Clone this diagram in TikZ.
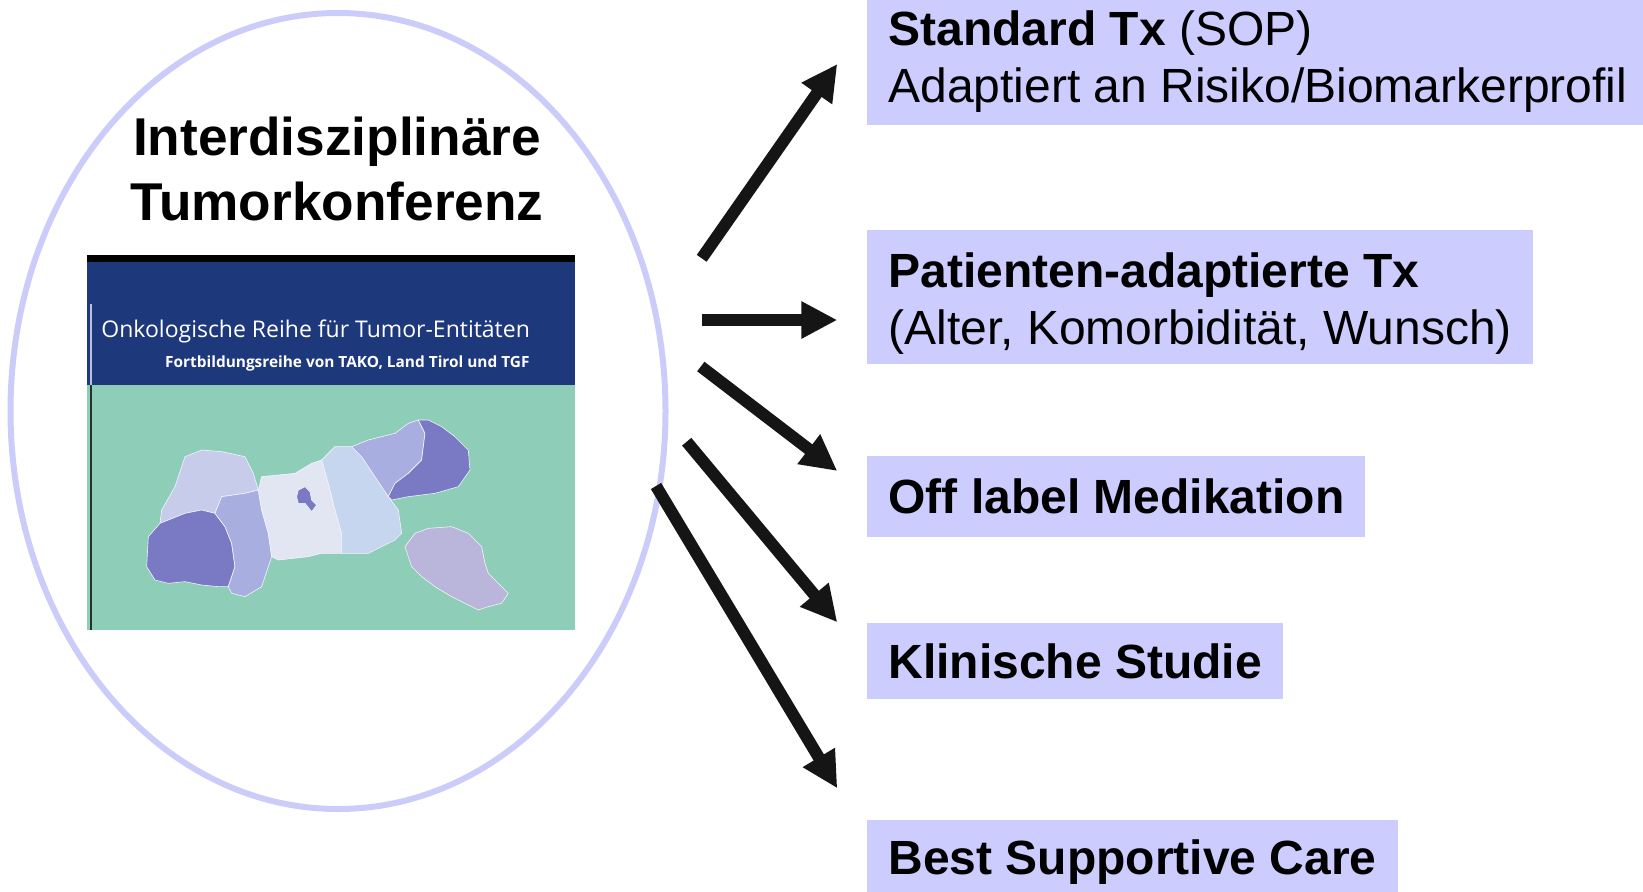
\documentclass[tikz,border=0pt]{standalone}
\usepackage{fontspec}
\setmainfont{Liberation Sans}
\newfontfamily\coverfont{Open Sans}
\usetikzlibrary{arrows.meta,shapes.geometric}

\definecolor{boxlila}{RGB}{204,204,255}
\definecolor{ringlila}{RGB}{204,204,250}
\definecolor{arrowblack}{RGB}{21,21,21}
\definecolor{covernavy}{RGB}{30,56,124}
\definecolor{covergreen}{RGB}{142,205,183}
\definecolor{maplight}{RGB}{198,204,234}
\definecolor{mapmid}{RGB}{168,174,223}
\definecolor{mapdark}{RGB}{122,122,196}
\definecolor{mapwhite}{RGB}{226,230,242}
\definecolor{mapblue}{RGB}{198,214,238}
\definecolor{mapeast}{RGB}{186,181,218}

\tikzset{
  optbox/.style={fill=boxlila, anchor=west, align=left, inner xsep=10.5pt, inner ysep=0pt,
    font=\fontsize{24}{28.5}\selectfont},
  optbold/.style={optbox, font=\bfseries\fontsize{24}{28.5}\selectfont},
  outarrow/.style={draw=arrowblack, line width=6pt, -{Triangle[length=18pt,width=17.5pt]}},
  confring/.style={draw=ringlila, line width=3pt, ellipse, inner sep=0pt},
  region/.style={draw=white!80!maplight, line width=0.3pt},
}

\begin{document}
\begin{tikzpicture}[x=0.5pt,y=-0.5pt]
\useasboundingbox (0,0) rectangle (1643,891);
\clip (0,0) rectangle (1643,891);

% conference ring and title
\node (tk) [confring, minimum width=327.5pt, minimum height=398pt] at (338,411) {};
\node (title) [align=center, inner sep=0pt, font=\bfseries\fontsize{26.6}{32.5}\selectfont] at (337,169)
  {Interdisziplinäre\\Tumorkonferenz};

% cover picture
\fill[black] (87,255) rectangle (575,262);
\fill[covernavy] (87,262) rectangle (575,385);
\fill[covergreen] (87,385) rectangle (575,630);
\draw[white!70!covernavy, line width=1pt] (90.5,304) -- (90.5,385);
\draw[black!75!covergreen, line width=1pt] (90.5,385) -- (90.5,630);
\node (cover1) [anchor=base west, inner sep=0pt, text=white, font=\coverfont\fontsize{11.5}{13}\selectfont]
  at (101,337) {Onkologische Reihe für Tumor-Entitäten};
\node (cover2) [anchor=base east, inner sep=0pt, text=white, font=\coverfont\bfseries\fontsize{7.7}{9}\selectfont]
  at (530,367) {Fortbildungsreihe von TAKO, Land Tirol und TGF};

% map of Tyrol
\begin{scope}[shift={(135,400)}, scale=0.3333]
% Reutte
\filldraw[region, fill=maplight] (150,170) -- (200,150) -- (260,155) -- (330,170) -- (355,220) -- (370,270)
  -- (330,280) -- (260,290) -- (240,340) -- (200,330) -- (150,340) -- (75,370) -- (80,330) -- (120,260) -- cycle;
% Landeck
\filldraw[region, fill=mapdark] (40,410) -- (75,370) -- (150,340) -- (200,330) -- (240,340) -- (270,380)
  -- (290,430) -- (300,500) -- (280,560) -- (250,560) -- (200,555) -- (150,545) -- (100,550) -- (60,540)
  -- (35,500) -- cycle;
% Imst
\filldraw[region, fill=mapmid] (240,340) -- (260,290) -- (330,280) -- (370,270) -- (380,330) -- (400,400)
  -- (410,470) -- (380,560) -- (330,590) -- (290,580) -- (280,560) -- (300,500) -- (290,430) -- (270,380) -- cycle;
% Innsbruck-Land
\filldraw[region, fill=mapwhite] (370,270) -- (380,230) -- (480,220) -- (530,190) -- (560,180) -- (580,250)
  -- (600,330) -- (620,400) -- (620,460) -- (560,460) -- (520,470) -- (430,480) -- (410,470) -- (400,400)
  -- (380,330) -- cycle;
% Innsbruck
\filldraw[region, fill=mapdark] (490,270) -- (510,260) -- (525,275) -- (530,300) -- (545,315) -- (530,335)
  -- (510,310) -- (490,310) -- (485,290) -- cycle;
% Schwaz
\filldraw[region, fill=mapblue] (560,180) -- (600,140) -- (650,140) -- (680,170) -- (700,200) -- (740,260)
  -- (760,290) -- (790,330) -- (800,400) -- (780,420) -- (700,460) -- (620,460) -- (620,400) -- (600,330)
  -- (580,250) -- cycle;
% Kufstein
\filldraw[region, fill=mapmid] (650,140) -- (700,120) -- (780,100) -- (820,70) -- (850,60) -- (870,100)
  -- (860,180) -- (820,220) -- (780,250) -- (760,290) -- (740,260) -- (700,200) -- (680,170) -- cycle;
% Kitzbuehel
\filldraw[region, fill=mapdark] (850,60) -- (880,60) -- (920,80) -- (960,110) -- (1000,150) -- (1005,210)
  -- (970,260) -- (900,280) -- (820,290) -- (770,300) -- (760,290) -- (780,250) -- (820,220) -- (860,180)
  -- (870,100) -- cycle;
% Osttirol
\filldraw[region, fill=mapeast] (810,440) -- (840,400) -- (880,385) -- (950,380) -- (1000,400) -- (1040,440)
  -- (1050,490) -- (1060,520) -- (1100,560) -- (1120,580) -- (1100,610) -- (1060,620) -- (1030,630)
  -- (990,610) -- (950,590) -- (900,560) -- (860,530) -- (830,500) -- cycle;
\end{scope}

% options
\node (std) [optbox, minimum height=63pt] at (867,62)
  {\textbf{Standard Tx} (SOP)\\Adaptiert an Risiko/Biomarkerprofil};
\node (pat) [optbox, minimum height=67pt] at (867,297)
  {\rule{0pt}{23.5pt}\textbf{Patienten-adaptierte Tx}\\(Alter, Komorbidität, Wunsch)};
\node (off) [optbold, minimum height=40.5pt] at (867,496) {Off label Medikation};
\node (kli) [optbold, minimum height=38pt] at (867,661) {Klinische Studie};
\node (bsc) [optbold, minimum height=42pt] at (867,862) {Best Supportive Care};

% arrow ends
\coordinate (s1) at (701.7,258.3);
\coordinate (e1) at (837.3,64);
\coordinate (s2) at (701.7,320);
\coordinate (e2) at (837.3,320);
\coordinate (s3) at (700.8,366.5);
\coordinate (e3) at (837.3,471);
\coordinate (s4) at (686.7,441.7);
\coordinate (e4) at (837.3,622.3);
\coordinate (s5) at (656,486);
\coordinate (e5) at (837.3,788.3);

\draw[outarrow] (s1) -- (e1);
\draw[outarrow] (s2) -- (e2);
\draw[outarrow] (s3) -- (e3);
\draw[outarrow] (s4) -- (e4);
\draw[outarrow] (s5) -- (e5);
\end{tikzpicture}
\end{document}
